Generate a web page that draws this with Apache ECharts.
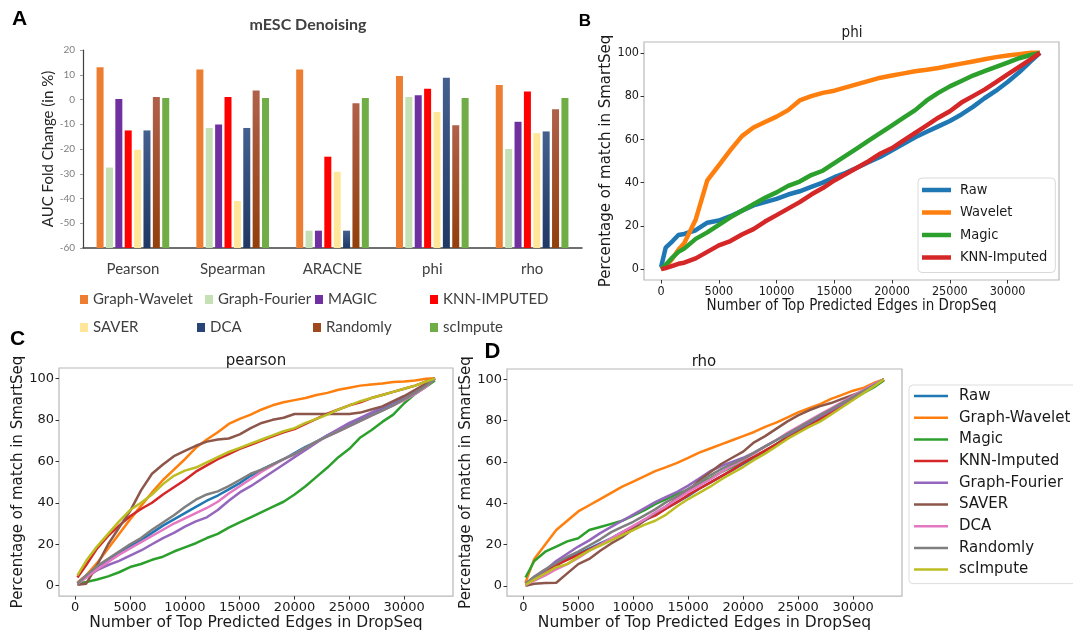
<!DOCTYPE html>
<html>
<head>
<meta charset="utf-8">
<script src="https://cdn.jsdelivr.net/npm/echarts@6/dist/echarts.min.js"></script>
<style>
html, body { margin: 0; padding: 0; background: #fff; }
#main { width: 1073px; height: 632px; }
</style>
</head>
<body>
<div id="main"></div>
<script>
// ---- panel A : AUC fold change bars ----
var catsA = ['Pearson', 'Spearman', 'ARACNE', 'phi', 'rho'];
var methodsA = ['Graph-Wavelet', 'Graph-Fourier', 'MAGIC', 'KNN-IMPUTED', 'SAVER', 'DCA', 'Randomly', 'scImpute'];
var aGraphWavelet = [13, 12.1, 12.1, 9.5, 5.9];
var aGraphFourier = [-27.5, -11.5, -53, 1, -20];
var aMagic        = [0.2, -10.1, -53, 1.7, -9];
var aKnn          = [-12.5, 1, -23.1, 4.3, 3.2];
var aSaver        = [-20.3, -41, -29.2, -5.1, -13.6];
var aDca          = [-12.5, -11.5, -53, 8.8, -12.9];
var aRandomly     = [1, 3.6, -1.5, -10.4, -3.9];
var aScimpute     = [0.6, 0.6, 0.6, 0.6, 0.6];

// ---- panel B : phi ----
var bX = [0, 400, 1000, 1500, 2000, 3000, 4000, 5000, 6000, 7000, 8000, 9000, 10000, 11000, 12000, 13000, 14000, 15000,
          16000, 17000, 18000, 19000, 20000, 21000, 22000, 23000, 24000, 25000, 26000, 27000, 28000, 29000, 30000, 31000, 32000, 32800];
var bRaw     = [1, 10, 13, 15.8, 16.3, 18, 21.5, 22.5, 24.5, 27, 29.5, 31, 32.5, 34.5, 36, 38, 40, 42.5, 44.5, 47, 49.5, 52, 55, 58, 61, 63.5, 66, 68.5, 71.5, 75, 79, 82.5, 86.5, 91, 96, 100];
var bWavelet = [0, 1, 5, 9, 12, 23, 41, 48, 55, 61.5, 65.5, 68, 70.5, 73.5, 78, 80, 81.5, 82.5, 84, 85.5, 87, 88.5, 89.5, 90.5, 91.5, 92.2, 93, 94, 95, 96, 97, 98, 98.8, 99.4, 100, 100];
var bMagic   = [0, 2, 5.5, 8, 9.5, 14, 17, 20.5, 24, 27, 30, 33, 35.5, 38.5, 40.5, 43.5, 45.5, 49, 52.5, 56, 59.5, 63, 66.5, 70, 73.5, 78, 81.5, 84.5, 87, 89.5, 91.5, 93.5, 95.5, 97.5, 99, 100];
var bKnn     = [0, 0.5, 1.5, 2.5, 3, 5, 8, 11, 13, 16, 18.5, 22, 25, 28, 31, 34.5, 37.5, 41, 44, 47, 50, 53.5, 56, 59.5, 63, 66.5, 70, 73, 77, 80, 83, 86.5, 90, 93.5, 97, 100];

// ---- panels C (pearson) and D (rho) share the x grid ----
var cdX = [200, 1000, 2000, 3000, 4000, 5000, 6000, 7000, 8000, 9000, 10000, 11000, 12000, 13000, 14000, 15000, 16000,
           17000, 18000, 19000, 20000, 21000, 22000, 23000, 24000, 25000, 26000, 27000, 28000, 29000, 30000, 31000, 32000, 32800];
var cRaw      = [1.5, 5, 9, 12, 16, 19, 22, 25.5, 29, 32, 35, 38, 41, 43.5, 46.5, 49.5, 53, 56, 58.5, 61, 64, 67, 69.5, 72.5, 75, 77.5, 80, 82.5, 85, 87.5, 90.5, 93, 96.5, 100];
var cWavelet  = [1.5, 5, 11, 18, 25, 32, 38.5, 45, 51, 56, 61, 66.5, 70.5, 74, 78, 80.5, 82.5, 85, 87, 88.5, 89.5, 90.5, 92, 93, 94.5, 95.5, 96.5, 97, 97.5, 98.2, 98.5, 99, 99.8, 100];
var cMagic    = [1, 1.8, 3, 4.5, 6.5, 9, 10.5, 12.5, 14, 16.5, 18.5, 20.5, 23, 25, 28, 30.5, 33, 35.5, 38, 40.5, 44, 48, 52.5, 57, 62, 66, 71.5, 75, 79, 82.5, 88, 92.5, 96, 99];
var cKnn      = [4, 10, 18, 24, 29, 33.5, 37, 40, 44, 47.5, 51, 55, 58, 61, 63.5, 66, 68, 70, 72, 74, 75.5, 78, 80.5, 83, 85, 87, 88.5, 90.5, 92, 93.5, 95, 96.5, 98.5, 100];
var cFourier  = [1, 4, 7.5, 10, 12, 14.5, 17, 20, 23, 25.5, 28.5, 31, 33, 36.5, 41, 45, 48, 51.5, 55, 58.5, 62, 65.5, 69, 72.5, 75.5, 78.5, 81, 83.5, 86, 88.5, 91, 93.5, 96.5, 100];
var cSaver    = [0.5, 1, 10, 20, 28, 36, 46, 54, 58.5, 62.5, 65, 67.5, 69.5, 70.5, 71, 73, 76, 78.5, 80, 81, 82.8, 82.8, 82.8, 82.8, 82.8, 82.8, 83.5, 85, 86.5, 89, 91.5, 94.5, 97.5, 100];
var cDca      = [1, 4, 8, 11.5, 15, 18, 21, 24, 27, 30, 32.5, 35, 37.5, 40.5, 44.5, 48, 51.5, 55, 58, 61, 63.5, 66.5, 69.5, 72, 74.5, 77, 79.5, 82, 84.5, 87, 89.5, 92.5, 96, 100];
var cRandomly = [1, 5, 9.5, 13, 16.5, 20, 23, 27, 30.5, 34, 38, 41.5, 44, 45.5, 48, 51, 54, 56, 58.5, 61, 63.5, 66.5, 69.5, 72, 74.5, 77, 79.5, 82, 84.5, 87, 90, 93, 96.5, 100];
var cScimpute = [5, 12, 19, 25, 31, 36.5, 40, 44, 49, 53, 55.5, 57, 59.5, 62, 64.5, 66.5, 68.5, 70.5, 72.5, 74.5, 76, 78.5, 80.5, 82.5, 85, 87, 89, 90.5, 92, 93.5, 95, 96.5, 98.5, 100];

var dRaw      = [1, 4, 7, 10, 13, 15.5, 18, 20.5, 23, 26, 28.5, 31.5, 34.5, 37.5, 40.5, 43.5, 47, 50, 53, 56, 59, 62, 65, 68.5, 72, 75, 78, 81, 84, 87.5, 91, 94, 97.5, 100];
var dWavelet  = [1.5, 13, 20, 27, 31.5, 36, 39, 42, 45, 48, 50.5, 53, 55.5, 57.5, 59.5, 62, 64.5, 66.5, 68.5, 70.5, 72.5, 74.5, 77, 79, 81.5, 84, 86, 88, 90.5, 92.5, 94.5, 96, 98.5, 100];
var dMagic    = [4, 12, 16.5, 19, 21.5, 23, 27, 28.5, 30, 31.5, 34, 36.5, 39.5, 42, 44.5, 46.5, 49.5, 52, 55, 57.5, 60, 62.5, 65.5, 68.5, 72, 75, 77.5, 80.5, 83.5, 87, 90.5, 93.5, 96.5, 99.5];
var dKnn      = [0.5, 3.5, 7, 10, 12.5, 15, 17.5, 20, 22.5, 25.5, 28.5, 32, 34, 37.5, 40.5, 44, 47, 50, 53, 56, 59.5, 62.5, 65.5, 68.5, 71.5, 74.5, 77.5, 80.5, 84, 87.5, 91, 94.5, 97.5, 100];
var dFourier  = [1, 4, 7.5, 12, 15.5, 19, 22, 25.5, 28.5, 31.5, 34.5, 37.5, 40.5, 43, 45.5, 48.5, 52, 55.5, 58, 60, 62, 64.5, 67.5, 70.5, 73, 76, 79, 82, 85, 88, 91.5, 94.5, 97.5, 100];
var dSaver    = [0, 1, 1.3, 1.5, 6, 10.5, 13, 17, 20.5, 23.5, 27.5, 31.5, 35, 38.5, 42.5, 46, 51, 55, 59, 62, 65, 69.5, 72.5, 76, 79.5, 82.5, 85, 87, 88.5, 90.5, 92.5, 94.5, 97.5, 100];
var dDca      = [0.5, 2.5, 5, 8, 10.5, 13.5, 17, 20, 23, 26, 29, 32, 35.5, 38.5, 42, 45.5, 48.5, 51.5, 55, 58, 61, 64, 67.5, 70.5, 74, 77, 80, 83, 86, 89, 92, 95, 98, 100];
var dRandomly = [1, 4.5, 8, 11, 14, 16.5, 19.5, 22.5, 26, 28.5, 31, 34, 37, 40.5, 43.5, 47, 50, 53.5, 56.5, 59, 61.5, 64.5, 67.5, 70.5, 73.5, 76.5, 79.5, 82.5, 85.5, 88.5, 91.5, 94.5, 97.5, 100];
var dScimpute = [0.5, 3, 6, 9, 10.5, 14, 17, 19.5, 22, 24.5, 27, 29.5, 31.5, 34.5, 38.5, 42, 45, 48, 51.5, 54.5, 57.5, 61, 64, 67.5, 71, 74, 77, 79.5, 83, 86.5, 90, 93.5, 97, 100];

var xTicks = [0, 5000, 10000, 15000, 20000, 25000, 30000];
var yTicks = [0, 20, 40, 60, 80, 100];
var namesB = ['Raw', 'Wavelet', 'Magic', 'KNN-Imputed'];
var namesCD = ['Raw', 'Graph-Wavelet', 'Magic', 'KNN-Imputed', 'Graph-Fourier', 'SAVER', 'DCA', 'Randomly', 'scImpute'];

// colours
var barColors = ['#ED7D31', '#C5E0B4', '#7030A0', '#FF0000', '#FFE699',
  new echarts.graphic.LinearGradient(0, 0, 0, 1, [{offset: 0, color: '#44608f'}, {offset: 1, color: '#1F3864'}]),
  new echarts.graphic.LinearGradient(0, 0, 0, 1, [{offset: 0, color: '#B0614A'}, {offset: 1, color: '#923F0C'}]),
  '#70AD47'];
var barLegendColors = ['#ED7D31', '#C5E0B4', '#7030A0', '#FF0000', '#FFE699', '#2a4478', '#A0481E', '#70AD47'];
var tab10 = ['#1f77b4', '#ff7f0e', '#2ca02c', '#d62728', '#9467bd', '#8c564b', '#e377c2', '#7f7f7f', '#bcbd22'];

var BASE = -60; // bars in A grow from the bottom of the axis
var aSeriesVals = [aGraphWavelet, aGraphFourier, aMagic, aKnn, aSaver, aDca, aRandomly, aScimpute];
var bSeriesVals = [bRaw, bWavelet, bMagic, bKnn];
var cSeriesVals = [cRaw, cWavelet, cMagic, cKnn, cFourier, cSaver, cDca, cRandomly, cScimpute];
var dSeriesVals = [dRaw, dWavelet, dMagic, dKnn, dFourier, dSaver, dDca, dRandomly, dScimpute];

function pairs(xs, ys) {
    return xs.map(function (x, i) { return [x, ys[i]]; });
}

var series = [];
aSeriesVals.forEach(function (vals, i) {
    series.push({
        name: methodsA[i],
        type: 'bar',
        xAxisIndex: 0, yAxisIndex: 0,
        barWidth: 7,
        barGap: '34%',
        itemStyle: { color: barColors[i] },
        data: vals.map(function (v) { return v - BASE; })
    });
});
function addLines(vals, names, xs, idx, width) {
    vals.forEach(function (ys, i) {
        series.push({
            name: names[i],
            type: 'line',
            xAxisIndex: idx, yAxisIndex: idx,
            showSymbol: false,
            symbol: 'none',
            lineStyle: { color: tab10[i], width: width },
            itemStyle: { color: tab10[i] },
            data: pairs(xs, ys)
        });
    });
}
addLines(bSeriesVals, namesB, bX, 1, 4.5);
addLines(cSeriesVals, namesCD, cdX, 2, 2.5);
addLines(dSeriesVals, namesCD, cdX, 3, 2.5);

var dv = 'DejaVu Sans';
var dvc = 'DejaVu Sans Condensed';
function plain(v) { return String(v); }

function lineX(idx, gap, font, size) {
    return {
        type: 'value', gridIndex: idx, min: -1480, max: 34450,
        name: 'Number of Top Predicted Edges in DropSeq', nameLocation: 'middle', nameGap: gap,
        nameTextStyle: { fontFamily: font, fontSize: size + 2.5, color: '#1a1a1a' },
        axisLine: { show: false, onZero: false },
        axisTick: { show: true, length: 3.5, customValues: xTicks, lineStyle: { color: '#333' } },
        axisLabel: { customValues: xTicks, margin: 5, fontFamily: font, fontSize: size, color: '#1a1a1a', formatter: plain },
        splitLine: { show: false }
    };
}
function lineY(idx, gap, font, size, nameSize) {
    return {
        type: 'value', gridIndex: idx, min: -5, max: 105,
        name: 'Percentage of match in SmartSeq', nameLocation: 'middle', nameGap: gap,
        nameTextStyle: { fontFamily: dv, fontSize: nameSize, color: '#1a1a1a' },
        axisLine: { show: false, onZero: false },
        axisTick: { show: true, length: 3.5, customValues: yTicks, lineStyle: { color: '#333' } },
        axisLabel: { customValues: yTicks, margin: 5, fontFamily: font, fontSize: size, color: '#1a1a1a', formatter: plain },
        splitLine: { show: false }
    };
}

// legends
var legends = [];
var aLegendPos = [[80, 292], [205, 292], [315, 292], [430, 292], [80, 320], [197, 320], [313, 320], [430, 320]];
methodsA.forEach(function (m, i) {
    legends.push({
        left: aLegendPos[i][0], top: aLegendPos[i][1], padding: 0,
        selectedMode: false, icon: 'rect', itemWidth: 8, itemHeight: 9,
        textStyle: { fontFamily: 'Lato', fontSize: 15, color: '#404040' },
        data: [{ name: m, itemStyle: { color: barLegendColors[i] } }]
    });
});
legends.push({
    left: 918, top: 178, orient: 'vertical', selectedMode: false,
    icon: 'rect', itemWidth: 29, itemHeight: 4.5, itemGap: 4.5,
    padding: [3, 8, 6, 4],
    backgroundColor: '#fff', borderColor: '#d9d9d9', borderWidth: 1, borderRadius: 4,
    textStyle: { fontFamily: dvc, fontSize: 14.5, lineHeight: 18, color: '#1a1a1a', padding: [0, 0, 0, 4] },
    data: namesB.map(function (n, i) { return { name: n, itemStyle: { color: tab10[i] } }; })
});
legends.push({
    left: 909, top: 385, orient: 'vertical', selectedMode: false,
    icon: 'rect', itemWidth: 34, itemHeight: 2.5, itemGap: 3.7,
    padding: [2, 10, 5, 5],
    backgroundColor: '#fff', borderColor: '#dddddd', borderWidth: 1, borderRadius: 4,
    textStyle: { fontFamily: dv, fontSize: 15, lineHeight: 18, color: '#1a1a1a', padding: [0, 0, 0, 6] },
    data: namesCD.map(function (n, i) { return { name: n, itemStyle: { color: tab10[i] } }; })
});

function label(x, y, text, font, extra) {
    var s = { text: text, font: font, fill: '#000', textAlign: 'center', textVerticalAlign: 'middle' };
    for (var k in extra) s[k] = extra[k];
    return { type: 'text', x: x, y: y, style: s, z: 100 };
}

var chart = echarts.init(document.getElementById('main'), null, { renderer: 'canvas' });
var option = {
    animation: false,
    backgroundColor: '#fff',
    grid: [
        { left: 83, top: 50, width: 499, height: 198 },
        { left: 644, top: 42, width: 415, height: 238, show: true, borderColor: '#b8b8b8', borderWidth: 1.2 },
        { left: 59, top: 368, width: 394, height: 229, show: true, borderColor: '#b8b8b8', borderWidth: 1.2 },
        { left: 507, top: 369, width: 395, height: 229, show: true, borderColor: '#b8b8b8', borderWidth: 1.2 }
    ],
    xAxis: [
        {
            type: 'category', gridIndex: 0, data: catsA,
            axisLine: { lineStyle: { color: '#404040', width: 1.5 } },
            axisTick: { show: false },
            axisLabel: { margin: 14, fontFamily: 'Lato', fontSize: 15, color: '#404040' }
        },
        lineX(1, 17, dvc, 12.5),
        lineX(2, 15, dv, 13),
        lineX(3, 15, dv, 13)
    ],
    yAxis: [
        {
            type: 'value', gridIndex: 0, min: 0, max: 80, interval: 10,
            name: 'AUC Fold Change (in %)', nameLocation: 'middle', nameGap: 27,
            nameTextStyle: { fontFamily: 'Lato', fontSize: 15, color: '#262626' },
            axisLine: { show: true, lineStyle: { color: '#404040', width: 1.2 } },
            axisTick: { show: true, length: 3, lineStyle: { color: '#999' } },
            axisLabel: {
                margin: 8, fontFamily: 'Lato', fontSize: 10, color: '#7f7f7f',
                formatter: function (v) { return String(v + BASE); }
            },
            splitLine: { show: false }
        },
        lineY(1, 25.5, dvc, 12.5, 15),
        lineY(2, 31.5, dv, 13, 15),
        lineY(3, 31.5, dv, 13, 15)
    ],
    legend: legends,
    graphic: [
        label(19.5, 19.5, 'A', 'bold 21px "Liberation Sans"'),
        label(585, 21, 'B', 'bold 17px "Liberation Sans"'),
        label(17.5, 339.5, 'C', 'bold 21px "Liberation Sans"'),
        label(492.5, 351.5, 'D', 'bold 22px "Liberation Sans"'),
        label(308, 25, 'mESC Denoising', 'bold 16px Lato', { fill: '#404040' }),
        label(852, 33, 'phi', '15px "DejaVu Sans Condensed"', { fill: '#1a1a1a' }),
        label(256, 361, 'pearson', '15px "DejaVu Sans"', { fill: '#1a1a1a' }),
        label(704, 362, 'rho', '15px "DejaVu Sans"', { fill: '#1a1a1a' })
    ],
    series: series
};
chart.setOption(option);
</script>
</body>
</html>
